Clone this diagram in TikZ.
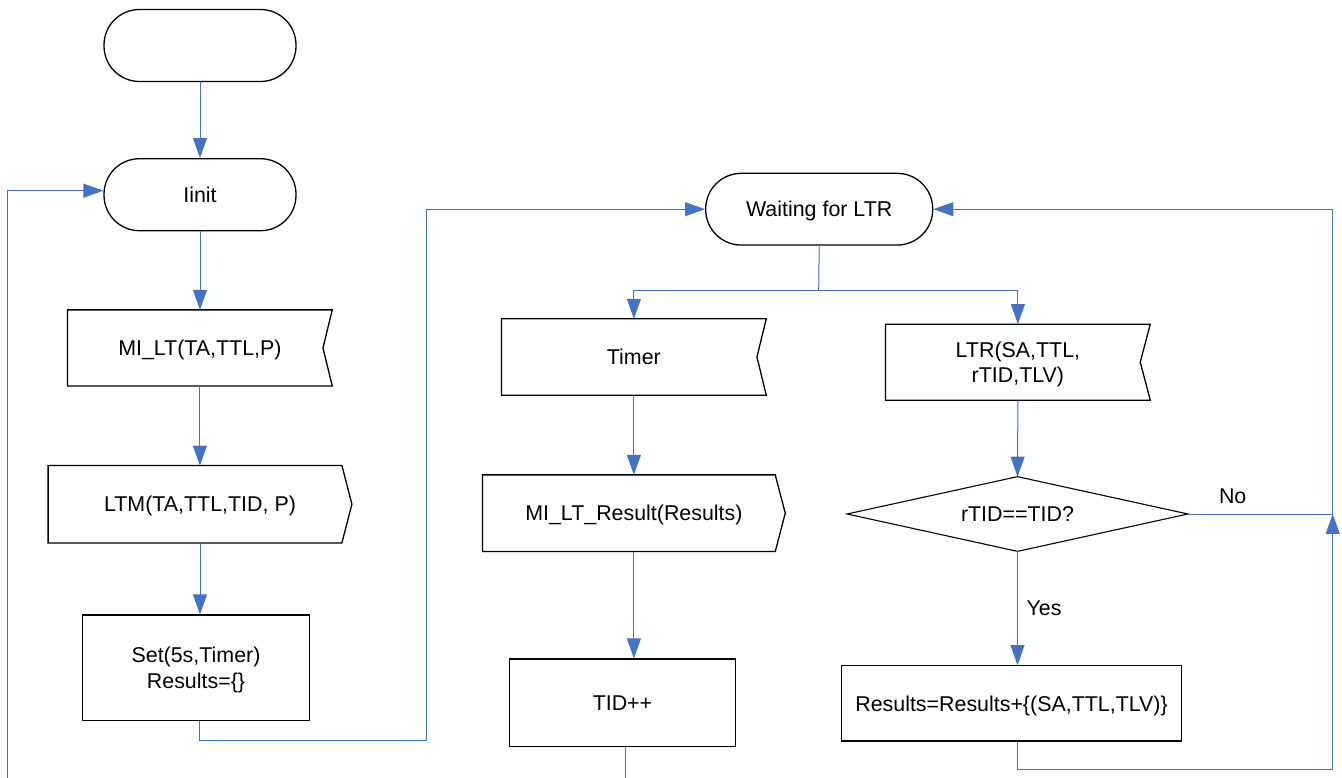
\documentclass[tikz,border=0pt]{standalone}
\usepackage{fontspec}
\setmainfont{Liberation Sans}
\usetikzlibrary{arrows.meta}
\definecolor{lnblue}{HTML}{4472C4}
\begin{document}
\begin{tikzpicture}[x=1pt,y=-1pt,
  every node/.style={font=\fontsize{21.4}{25.5}\selectfont, inner sep=0pt, align=center, text depth=0pt},
  outline/.style={draw=black, line width=1.3pt, line join=miter},
  term/.style={outline, rounded corners=35.5pt, minimum width=#1, minimum height=72pt},
  box/.style={outline, fill=white},
  conn/.style={draw=lnblue, line width=1pt},
  arr/.style={conn, -{Triangle[length=20pt,width=14pt]}},
  lbl/.style={font=\fontsize{21.4}{25.5}\selectfont}
]
\useasboundingbox (0,0) rectangle (1342,778);

% ---- left column ----
\node[term=192pt] (top) at (200,45.5) {};
\node[term=192pt] (iinit) at (200,194.7) {Iinit};

\node[minimum width=264.3pt, minimum height=75.7pt] (mi) at (199.9,347.9) {MI\_LT(TA,TTL,P)};
\draw[outline] (mi.north west) -- (mi.north east) -- ([xshift=-9.3pt]mi.east) -- (mi.south east) -- (mi.south west) -- cycle;

\node[minimum width=303.4pt, minimum height=77pt] (ltm) at (200,504.2) {LTM(TA,TTL,TID, P)};
\draw[outline] (ltm.north west) -- ([xshift=-10pt]ltm.north east) -- (ltm.east) -- ([xshift=-10pt]ltm.south east) -- (ltm.south west) -- cycle;

\node[box, minimum width=226.6pt, minimum height=105.7pt] (set) at (196,667.9) {Set(5s,Timer)\\Results=\{\}};

% ---- middle column ----
\node[term=227pt, minimum height=71.7pt] (wait) at (819.2,209.2) {Waiting for LTR};

\node[minimum width=264.3pt, minimum height=76pt] (timer) at (633.9,357) {Timer};
\draw[outline] (timer.north west) -- (timer.north east) -- ([xshift=-9.3pt]timer.east) -- (timer.south east) -- (timer.south west) -- cycle;

\node[minimum width=302.3pt, minimum height=76.3pt] (mir) at (633.9,513.2) {MI\_LT\_Result(Results)};
\draw[outline] (mir.north west) -- ([xshift=-10pt]mir.north east) -- (mir.east) -- ([xshift=-10pt]mir.south east) -- (mir.south west) -- cycle;

\node[box, minimum width=226.4pt, minimum height=87.7pt] (tid) at (622.5,702.9) {TID++};

% ---- right column ----
\node[minimum width=264.3pt, minimum height=75.7pt] (ltr) at (1017.9,362.2) {LTR(SA,TTL,\\rTID,TLV)};
\draw[outline] (ltr.north west) -- (ltr.north east) -- ([xshift=-10pt]ltr.east) -- (ltr.south east) -- (ltr.south west) -- cycle;

\node[minimum width=340.4pt, minimum height=74.3pt] (dec) at (1017.5,514) {rTID==TID?};
\draw[outline, line width=1.1pt] (dec.north) -- (dec.east) -- (dec.south) -- (dec.west) -- cycle;

\node[box, minimum width=340.4pt, minimum height=75.3pt] (res) at (1011.5,703.4) {Results=Results+\{(SA,TTL,TLV)\}};

% ---- coordinates for free ends / corners ----
\coordinate (leftend) at (7.3,778);
\coordinate (setcorner) at (426.7,740.7);
\coordinate (branch) at (818.7,290.3);
\coordinate (tidend) at (625.7,778);
\coordinate (rcorner) at (1332.7,769);
\coordinate (njoin) at (1332.7,514);

% ---- connectors ----
\draw[arr] (top.south) -- (iinit.north);
\draw[arr] (leftend) |- ([yshift=4pt]iinit.west);
\draw[arr] (iinit.south) -- (iinit.south |- mi.north);
\draw[arr] (mi.south) -- (mi.south |- ltm.north);
\draw[arr] (ltm.south) -- (ltm.south |- set.north);
\draw[arr] ([xshift=3.7pt]set.south) |- (setcorner) |- (wait.west);

\draw[conn] (wait.south) -- (branch);
\draw[arr] (branch) -| (timer.north);
\draw[arr] (branch) -| (ltr.north);

\draw[arr] (timer.south) -- (timer.south |- mir.north);
\draw[arr] (mir.south) -- (mir.south |- tid.north);
\draw[conn] (tid.south -| tidend) -- (tidend);

\draw[arr] (ltr.south) -- (dec.north);
\draw[arr] (dec.south) -- (dec.south |- res.north);
\draw[arr] (res.south -| dec.south) |- (rcorner) -- (njoin);
\draw[arr] (dec.east) -- (njoin) |- (wait.east);

\node[lbl] (no) at (1232.7,495.7) {No};
\node[lbl] (yes) at (1044,607.7) {Yes};
\end{tikzpicture}
\end{document}
